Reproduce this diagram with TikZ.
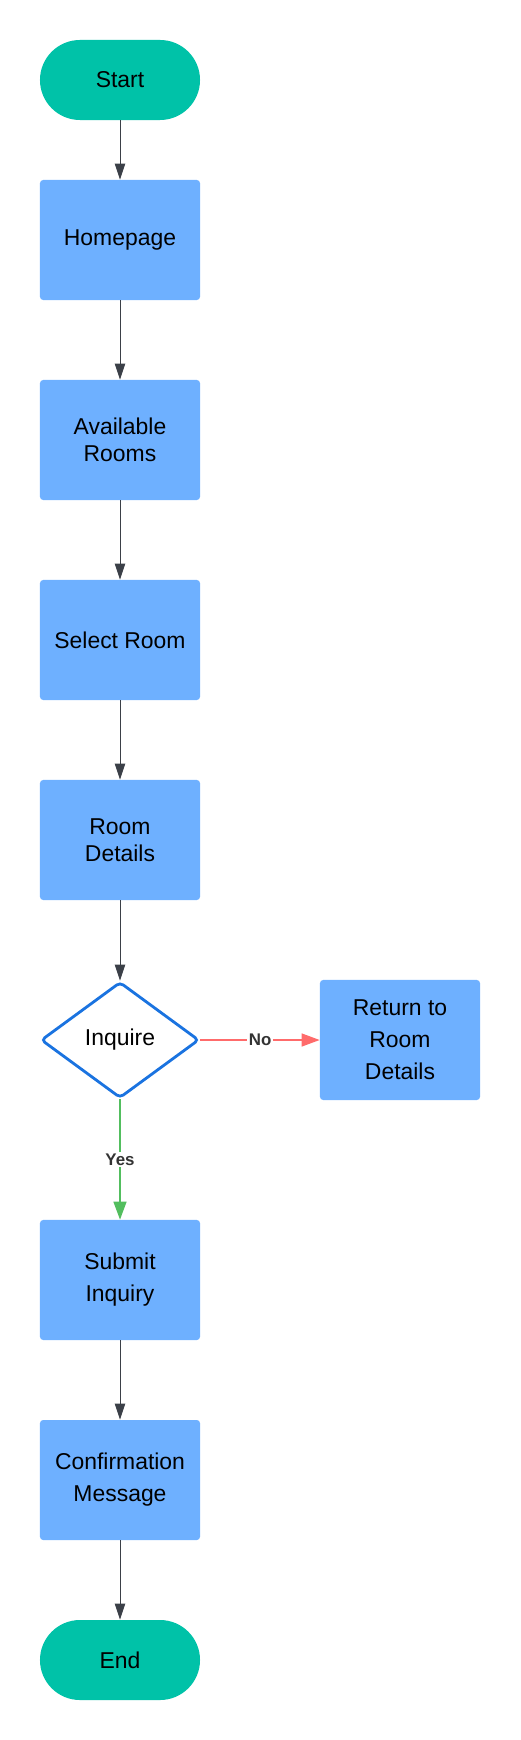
\documentclass[tikz,border=0pt]{standalone}
\usepackage{fontspec}
\setmainfont{Liberation Sans}
\usepackage{tikz}
\usetikzlibrary{shapes.geometric,arrows.meta}
\definecolor{termcol}{HTML}{00C2A8}
\definecolor{boxcol}{HTML}{6EB0FF}
\definecolor{decline}{HTML}{1A73E0}
\definecolor{flowline}{HTML}{3B4048}
\definecolor{nocol}{HTML}{FF6B6B}
\definecolor{yescol}{HTML}{52BE5E}
\definecolor{labcol}{HTML}{333333}

\begin{document}
\begin{tikzpicture}[x=0.025cm,y=-0.025cm,
    term/.style={rectangle,fill=termcol,rounded corners=1cm,minimum width=4cm,minimum height=2cm,
        font=\fontsize{16.3}{19}\selectfont},
    stepbox/.style={rectangle,fill=boxcol,rounded corners=0.08cm,minimum width=4cm,minimum height=3cm,
        align=center,font=\fontsize{16.3}{19.2}\selectfont},
    widebox/.style={stepbox,font=\fontsize{16.3}{22.8}\selectfont},
    decide/.style={diamond,draw=decline,line width=2pt,fill=white,aspect=1.38,minimum width=3.95cm,
        minimum height=2.9cm,inner sep=0pt,rounded corners=0.1cm,font=\fontsize{16.3}{19}\selectfont},
    flow/.style={draw=flowline,line width=0.7pt,-{Triangle[length=0.4cm,width=0.26cm]}},
    branch/.style={line width=1.4pt,-{Triangle[length=0.45cm,width=0.32cm]}},
    lab/.style={fill=white,inner sep=1pt,text=labcol,font=\fontsize{12}{14}\selectfont\bfseries}]
    \useasboundingbox (0,0) rectangle (520,1740);
    % main column
    \node[term] (start) at (120,80) {Start};
    \node[stepbox] (home) at (120,240) {Homepage};
    \node[stepbox] (rooms) at (120,440) {Available\\Rooms};
    \node[stepbox] (select) at (120,640) {Select Room};
    \node[stepbox] (details) at (120,840) {Room\\Details};
    \node[decide] (inquire) at (120,1040) {Inquire};
    \node[widebox] (back) at (400,1040) {Return to\\Room\\Details};
    \node[widebox] (submit) at (120,1280) {Submit\\Inquiry};
    \node[widebox] (confirm) at (120,1480) {Confirmation\\Message};
    \node[term] (finish) at (120,1660) {End};
    % connectors
    \draw[flow] (start) -- (home);
    \draw[flow] (home) -- (rooms);
    \draw[flow] (rooms) -- (select);
    \draw[flow] (select) -- (details);
    \draw[flow] (details) -- (inquire);
    \draw[branch,draw=nocol,fill=nocol] (inquire) -- node[lab,pos=0.5]{No} (back);
    \draw[branch,draw=yescol,fill=yescol] (inquire) -- node[lab,pos=0.5]{Yes} (submit);
    \draw[flow] (submit) -- (confirm);
    \draw[flow] (confirm) -- (finish);
\end{tikzpicture}
\end{document}
